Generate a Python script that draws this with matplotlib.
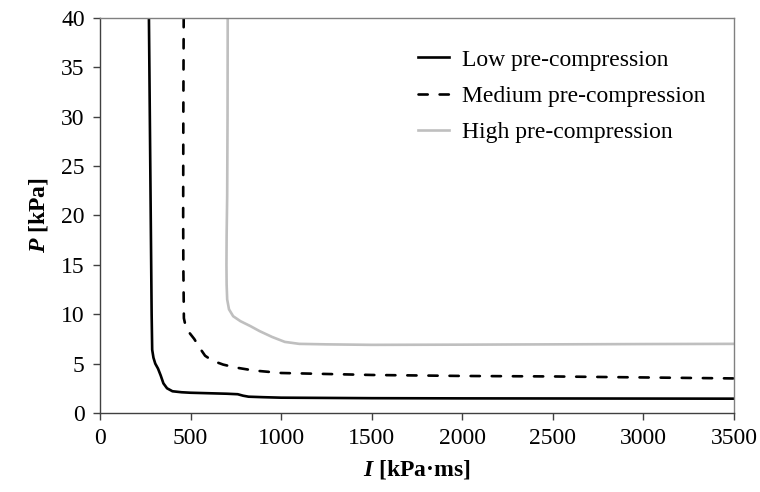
import matplotlib.pyplot as plt
import matplotlib as mpl

# serif style, Times-like
mpl.rcParams['font.family'] = 'Liberation Serif'
mpl.rcParams['font.size'] = 17
mpl.rcParams['mathtext.fontset'] = 'custom'
mpl.rcParams['mathtext.rm'] = 'Liberation Serif'
mpl.rcParams['mathtext.it'] = 'Liberation Serif:italic'
mpl.rcParams['mathtext.bf'] = 'Liberation Serif:bold'
mpl.rcParams['mathtext.bfit'] = 'Liberation Serif:italic:bold'

# P-I curves (impulse kPa*ms, pressure kPa)
low_I = [270, 275, 280, 285, 288, 295, 305, 320, 335, 350, 370, 400, 450, 500, 600, 700, 760, 790, 820, 900, 1000, 1500, 2000, 2500, 3000, 3500]
low_P = [40, 30, 20, 10, 6.4, 5.6, 5.0, 4.5, 3.8, 3.0, 2.5, 2.2, 2.1, 2.05, 2.0, 1.95, 1.9, 1.75, 1.65, 1.6, 1.55, 1.5, 1.48, 1.47, 1.46, 1.45]

med_I = [462, 460, 459, 460, 463, 470, 490, 520, 550, 580, 620, 680, 750, 850, 1000, 1250, 1500, 2000, 2500, 3000, 3500]
med_P = [40, 30, 20, 15, 9.6, 9.0, 8.2, 7.5, 6.6, 5.8, 5.3, 4.9, 4.6, 4.3, 4.05, 3.95, 3.85, 3.75, 3.7, 3.6, 3.5]

high_I = [705, 704, 702, 699, 698, 699, 702, 712, 735, 775, 830, 880, 950, 1020, 1100, 1250, 1500, 2000, 2500, 3000, 3500]
high_P = [40, 30, 22, 18, 15, 13, 11.5, 10.5, 9.8, 9.3, 8.8, 8.3, 7.7, 7.2, 7.0, 6.95, 6.9, 6.92, 6.95, 6.98, 7.0]

fig = plt.figure(figsize=(7.6, 4.92), dpi=100)
ax = fig.add_axes([0.1316, 0.1606, 0.8342, 0.8028])

ax.plot(low_I, low_P, color='black', linewidth=1.9, label='Low pre-compression')
ax.plot(med_I, med_P, color='black', linewidth=1.9, linestyle=(0, (3.5, 4.5)),
        dash_capstyle='round', label='Medium pre-compression')
ax.plot(high_I, high_P, color='#BFBFBF', linewidth=1.9, label='High pre-compression')

ax.set_xlim(0, 3500)
ax.set_ylim(0, 40)
ax.set_xticks(range(0, 3501, 500))
ax.set_yticks(range(0, 41, 5))

ax.tick_params(direction='out', length=5, width=1, color='#404040')
ax.tick_params(axis='x', pad=6)
ax.tick_params(axis='y', pad=6)
for side in ['left', 'bottom']:
    ax.spines[side].set_color('#404040')
    ax.spines[side].set_linewidth(1.0)
for side in ['top', 'right']:
    ax.spines[side].set_color('#808080')
    ax.spines[side].set_linewidth(1.0)

ax.set_xlabel(r'$\mathbfit{I}$ [kPa·ms]', fontweight='bold', labelpad=6)
ax.set_ylabel(r'$\mathbfit{P}$ [kPa]', fontweight='bold', labelpad=8)

ax.legend(loc='upper left', bbox_to_anchor=(0.468, 0.975), frameon=False,
          handlelength=1.3, handletextpad=0.55, labelspacing=0.62)

plt.savefig('out.png', dpi=100)
